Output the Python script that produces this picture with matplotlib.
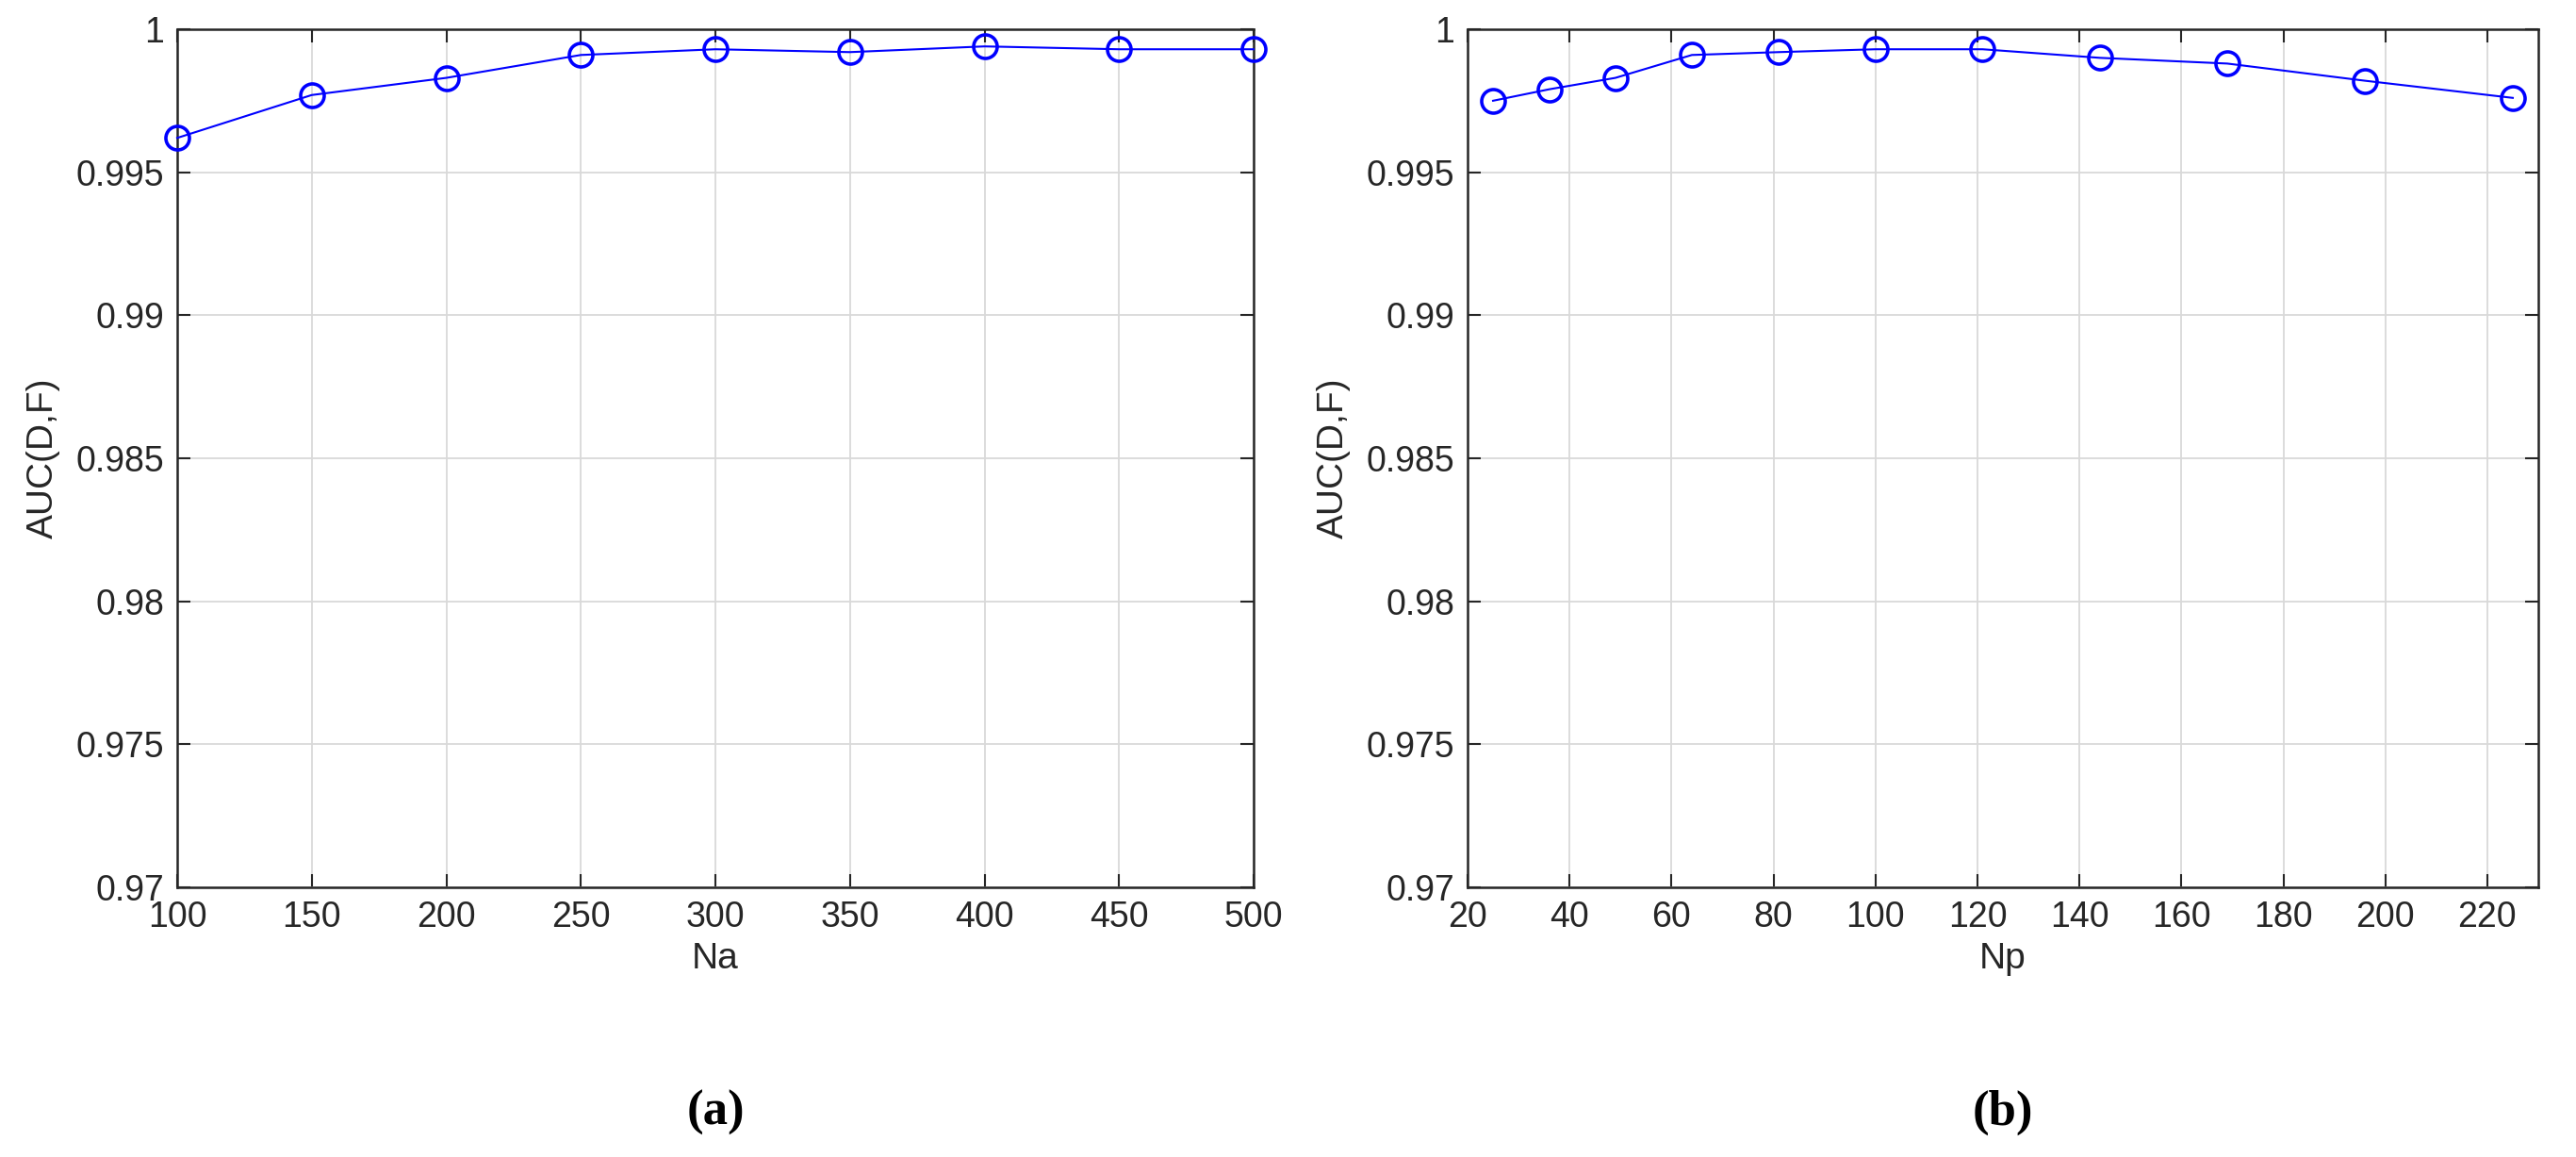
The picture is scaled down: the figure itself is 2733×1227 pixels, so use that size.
import matplotlib
matplotlib.use('Agg')
import matplotlib.pyplot as plt

na = [100, 150, 200, 250, 300, 350, 400, 450, 500]
auc_na = [0.9962, 0.9977, 0.9983, 0.9991, 0.9993, 0.9992, 0.9994, 0.9993, 0.9993]

np_vals = [25, 36, 49, 64, 81, 100, 121, 144, 169, 196, 225]
auc_np = [0.9975, 0.9979, 0.9983, 0.9991, 0.9992, 0.9993, 0.9993, 0.9990, 0.9988, 0.9982, 0.9976]

yticks = [0.97, 0.975, 0.98, 0.985, 0.99, 0.995, 1]
ytick_labels = ['0.97', '0.975', '0.98', '0.985', '0.99', '0.995', '1']

plt.rcParams['font.family'] = ['Liberation Sans', 'DejaVu Sans']

fig = plt.figure(figsize=(27.33, 12.27), dpi=100)
ax1 = fig.add_axes([188 / 2733, 1 - 941 / 1227, 1142 / 2733, 910 / 1227])
ax2 = fig.add_axes([1557 / 2733, 1 - 941 / 1227, 1136 / 2733, 910 / 1227])

panels = [
    (ax1, na, auc_na, 'Na', (100, 500), range(100, 501, 50), '(a)'),
    (ax2, np_vals, auc_np, 'Np', (20, 230), range(20, 221, 20), '(b)'),
]

for ax, x, y, xlabel, xlim, xt, cap in panels:
    ax.plot(x, y, '-o', color='#0000ff', lw=1.5, markersize=18,
            markerfacecolor='none', markeredgewidth=2.6, clip_on=False, zorder=3)
    ax.set_xlim(*xlim)
    ax.set_ylim(0.97, 1)
    ax.set_xticks(list(xt))
    ax.set_yticks(yticks)
    ax.set_yticklabels(ytick_labels)
    ax.grid(True, color='#d9d9d9', lw=1.3)
    ax.tick_params(labelsize=27, direction='in', length=10, width=1.5, pad=10,
                   top=True, right=True, colors='#262626')
    for s in ax.spines.values():
        s.set_color('#262626')
        s.set_linewidth(1.8)
    ax.set_xlabel(xlabel, fontsize=28, color='#262626', labelpad=6)
    ax.set_ylabel('AUC(D,F)', fontsize=28, color='#262626', labelpad=12)
    ax.text(0.5, -0.263, cap, transform=ax.transAxes, ha='center', va='center',
            fontsize=38, fontweight='bold', family='Liberation Serif')

fig.savefig('out.png', dpi=100)
